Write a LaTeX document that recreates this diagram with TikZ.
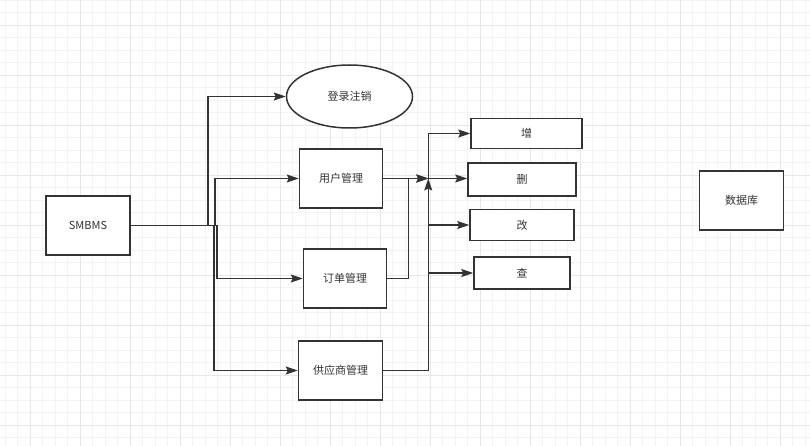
\documentclass[tikz,border=0pt]{standalone}
\usepackage{fontspec}
\newfontfamily\cjk{Noto Sans CJK SC}
\usetikzlibrary{arrows.meta,positioning,shapes.geometric}
\definecolor{ink}{HTML}{333333}
\definecolor{gridminor}{HTML}{F3F3F3}
\definecolor{gridmajor}{HTML}{E7E7E7}

\begin{document}
\begin{tikzpicture}[x=1pt,y=-1pt,>={Stealth[length=12pt,width=8pt,inset=2pt]},
  box/.style={draw=ink,line width=1.5pt,fill=white,minimum width=84pt,minimum height=59pt,inner sep=0pt,font=\cjk\fontsize{11}{13}\selectfont,text=ink},
  op/.style={box,minimum height=31pt},
  link/.style={draw=ink,line width=1.5pt,->}]
\fill[white] (0,0) rectangle (810,446);
\useasboundingbox (0,0) rectangle (810,446);
\foreach \x in {5,17.5,...,810} \draw[gridminor,line width=0.8pt] (\x,0)--(\x,446);
\foreach \y in {0,12.5,...,446} \draw[gridminor,line width=0.8pt] (0,\y)--(810,\y);
\foreach \x in {30,80,...,810} \draw[gridmajor,line width=0.8pt] (\x,0)--(\x,446);
\foreach \y in {25,75,...,446} \draw[gridmajor,line width=0.8pt] (0,\y)--(810,\y);
\node[box] (smbms) at (88,225.5) {SMBMS};
\node[box,ellipse,minimum width=126pt,minimum height=63pt,right=155pt of smbms,yshift=129pt] (login) {登录注销};
\node[box,minimum width=83pt,right=168pt of smbms,yshift=47pt] (user) {用户管理};
\node[box,minimum width=83pt,right=172pt of smbms,yshift=-53pt] (order) {订单管理};
\node[box,right=167pt of smbms,yshift=-145pt] (supplier) {供应商管理};
\node[op,minimum width=108pt,minimum height=33pt,right=84pt of user,yshift=-1pt] (del) {删};
\node[op,minimum width=111pt,minimum height=30pt,above=13pt of del,xshift=4.5pt] (add) {增};
\node[op,minimum width=104pt,below=12pt of del] (mod) {改};
\node[op,minimum width=96pt,minimum height=32pt,below=15pt of mod] (qry) {查};
\node[box,right=122pt of del,yshift=-21pt] (db) {数据库};
\coordinate[right=45pt of user.east] (hub);
\draw[link] (smbms.east) -- ++(77,0) |- (login);
\draw[link] (smbms.east) -- ++(84,0) |- (user);
\draw[link] (smbms.east) -- ++(86,0) |- (order);
\draw[link] (smbms.east) -- ++(83,0) |- (supplier);
\draw[link] (user) -- (hub);
\draw[link] (order.east) -- ++(21,0) |- (hub);
\draw[link] (supplier.east) -| (hub);
\draw[link] (hub) |- (add);
\draw[link] (hub) -- (hub -| del.west);
\draw[link] (hub) |- (mod);
\draw[link] (hub) |- (qry);
\end{tikzpicture}
\end{document}
